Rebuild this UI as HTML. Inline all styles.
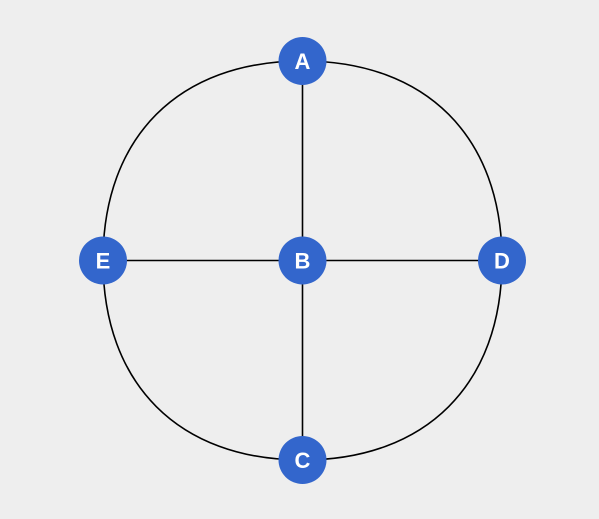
<!DOCTYPE html>
<html><head><meta charset="utf-8"><style>
html,body{margin:0;padding:0;background:#eeeeee;}
svg{display:block;}
text{font-family:"Liberation Sans",sans-serif;font-weight:bold;font-size:22px;fill:#fff;}
</style></head><body>
<svg id="chart" width="599" height="519" viewBox="0 0 599 519">
<rect width="599" height="519" fill="#eeeeee"/>
<g id="edges"></g>
<g id="nodes"></g>
</svg>
<script>
const nodeIds = ["A","B","C","D","E"];
const nodeX = [0, 0, 0, 1, -1];
const nodeY = [-1, 0, 1, 0, 0];
const straightEdges = [["A","B"],["B","C"],["B","D"],["B","E"]];
const curvedEdges = [["A","D"],["D","C"],["C","E"],["E","A"]];

const cx = 302.5, cy = 260.5, scale = 199.5, r = 24;
const sx = v => cx + v*scale, sy = v => cy + v*scale;
const ns = "http://www.w3.org/2000/svg";
const pos = id => { const i = nodeIds.indexOf(id); return [sx(nodeX[i]), sy(nodeY[i])]; };
const eg = document.getElementById("edges"), ng = document.getElementById("nodes");

straightEdges.forEach(([a,b]) => {
  const [x1,y1] = pos(a), [x2,y2] = pos(b);
  const l = document.createElementNS(ns,"line");
  l.setAttribute("x1",x1); l.setAttribute("y1",y1); l.setAttribute("x2",x2); l.setAttribute("y2",y2);
  l.setAttribute("stroke","#000"); l.setAttribute("stroke-width","1.6");
  
  
  eg.appendChild(l);
});
curvedEdges.forEach(([a,b]) => {
  const [x1,y1] = pos(a), [x2,y2] = pos(b);
  const kx = (Math.abs(x1-cx) > 1) ? x1 : x2;
  const ky = (Math.abs(y1-cy) > 1) ? y1 : y2;
  const t = 0.62;
  const c1x = x1 + (kx-x1)*t, c1y = y1 + (ky-y1)*t;
  const c2x = x2 + (kx-x2)*t, c2y = y2 + (ky-y2)*t;
  const p = document.createElementNS(ns,"path");
  p.setAttribute("d",`M${x1},${y1} C${c1x},${c1y} ${c2x},${c2y} ${x2},${y2}`);
  p.setAttribute("fill","none"); p.setAttribute("stroke","#000"); p.setAttribute("stroke-width","1.6");
  
  
  eg.appendChild(p);
});
nodeIds.forEach(id => {
  const [x,y] = pos(id);
  const g = document.createElementNS(ns,"g");
  
  
  const c = document.createElementNS(ns,"circle");
  c.setAttribute("cx",x); c.setAttribute("cy",y); c.setAttribute("r",r); c.setAttribute("fill","#3366cc");
  
  
  const t = document.createElementNS(ns,"text");
  t.setAttribute("x",x); t.setAttribute("y",y+8); t.setAttribute("text-anchor","middle");
  t.textContent = id;
  
  
  g.appendChild(c); g.appendChild(t); ng.appendChild(g);
});
</script>
</body></html>
